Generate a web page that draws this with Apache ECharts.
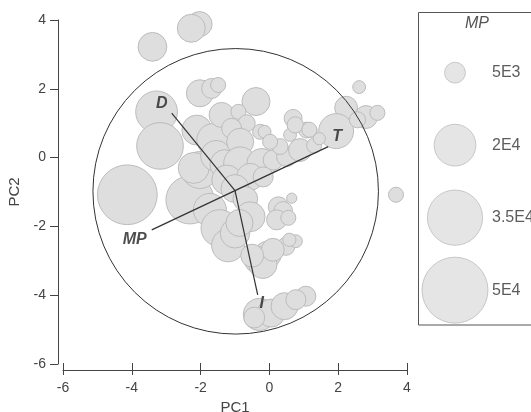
<!DOCTYPE html>
<html>
<head>
<meta charset="utf-8">
<script src="https://cdn.jsdelivr.net/npm/echarts@6/dist/echarts.min.js"></script>
<style>html,body{margin:0;padding:0;background:#fff}#c{width:531px;height:412px}</style>
</head>
<body>
<div id="c"></div>
<script>
// Bubble data: [PC1, PC2, MP]
const bubbles = [
  [-3.40, 3.22, 9500], [-2.03, 3.88, 7200], [-2.27, 3.76, 9000],
  [-2.02, 1.87, 8400], [-1.68, 2.01, 4600], [-1.49, 2.11, 2600],
  [-3.28, 1.33, 20000], [-3.18, 0.34, 25000], [-4.13, -1.08, 41000], [-2.31, -1.23, 26500],
  [-2.11, 0.80, 10300], [-1.63, 0.51, 12500], [-2.02, -0.36, 15700],
  [-2.20, -0.30, 11000], [-1.55, 0.05, 11000], [-1.30, -0.20, 10000],
  [-0.39, 1.63, 9000], [-1.39, 1.24, 7200], [-0.90, 1.33, 2600], [-0.66, 1.00, 3300],
  [-1.10, 0.85, 4600], [-0.27, 0.75, 2600], [-0.14, 0.75, 1900],
  [-0.85, 0.46, 8400], [-0.85, -0.17, 12500], [-0.22, -0.17, 10300], [0.11, -0.07, 4600],
  [0.50, 0.03, 4600], [0.31, 0.32, 2900], [0.89, 0.22, 6000], [0.69, 1.14, 3700],
  [1.08, 0.80, 2900], [1.20, 0.78, 1900], [0.60, 0.66, 1900], [0.02, 0.46, 2600],
  [1.30, 0.35, 2600], [0.75, 0.95, 3000],
  [-1.24, -0.65, 10300], [-0.56, -0.56, 8400], [-0.18, -0.56, 4600],
  [-1.00, -0.90, 9000], [-0.70, -1.20, 7000],
  [-0.56, -1.72, 10300], [0.26, -1.43, 4600], [0.40, -1.55, 4000], [0.65, -1.18, 1200],
  [0.21, -1.81, 4600], [0.55, -1.75, 2600],
  [-1.73, -1.52, 12500], [-1.45, -2.05, 15700], [-1.20, -2.55, 12500], [-1.00, -2.20, 10000],
  [-0.87, -1.90, 8400],
  [-0.05, -2.82, 8400], [-0.34, -2.97, 8400], [0.48, -2.58, 3700], [0.77, -2.43, 1900],
  [-0.19, -3.10, 9300], [0.10, -2.68, 6000], [0.58, -2.39, 2000], [-0.50, -2.85, 6000],
  [2.61, 2.05, 1900], [2.23, 1.45, 6000], [1.94, 0.77, 14000], [2.81, 1.18, 6000],
  [3.14, 1.30, 2600], [2.56, 1.10, 3000], [1.16, 0.81, 2600], [3.68, -1.08, 2600],
  [1.45, 0.55, 1700],
  [-0.29, -4.56, 12000], [0.05, -4.52, 9000], [0.44, -4.32, 8400], [1.06, -4.03, 4600],
  [0.77, -4.13, 4600], [-0.44, -4.65, 5000]
];
// Correlation circle: [centerX, centerY, radius]
const circle = [[-0.98, -0.98, 4.15]];
// Loading vectors
const vectorOrigin = [-1.0, -0.96];
const vectorNames = ['D', 'T', 'MP', 'I'];
const vectorEnds = [[-2.84, 1.29], [1.71, 0.32], [-3.42, -2.10], [-0.34, -3.99]];
// Size legend
const legendMP = [5000, 20000, 35000, 50000];
const legendLabels = ['5E3', '2E4', '3.5E4', '5E4'];
const axisTicks = [-6, -4, -2, 0, 2, 4];

const K = 0.295;
const sizeFn = v => Math.sqrt(v[2]) * K;
const labelOffsets = {D: [-10, -10], T: [9, -10], MP: [-17, 10], I: [4, 9]};
const font = 'Liberation Sans, Arial, sans-serif';
const axMin = axisTicks[0], axMax = axisTicks[axisTicks.length - 1];

const chart = echarts.init(document.getElementById('c'), null, {renderer: 'canvas'});
chart.setOption({
  animation: false,
  backgroundColor: '#fff',
  grid: [
    {left: 63, top: 20, width: 344, height: 344, containLabel: false, outerBoundsMode: 'none'},
    {left: 418, top: 36.4, right: 0, height: 290, containLabel: false, outerBoundsMode: 'none'}
  ],
  xAxis: [{
    type: 'value', gridIndex: 0, min: axMin, max: axMax, interval: 2,
    offset: 6, name: 'PC1', nameLocation: 'middle', nameGap: 24,
    nameTextStyle: {color: '#444', fontSize: 15, fontFamily: font},
    axisLine: {show: true, onZero: false, lineStyle: {color: '#444', width: 1}},
    axisTick: {show: true, inside: true, length: 7, lineStyle: {color: '#444'}},
    axisLabel: {color: '#444', fontSize: 14, fontFamily: font, margin: 11},
    splitLine: {show: false}
  }, {
    type: 'value', gridIndex: 1, min: 0, max: 113, show: false
  }, {
    type: 'value', gridIndex: 0, min: axMin, max: axMax, interval: 2, position: 'bottom',
    offset: 6,
    axisLine: {show: false, onZero: false},
    axisTick: {show: true, inside: false, length: 5, lineStyle: {color: '#444'}},
    axisLabel: {show: false}, splitLine: {show: false}
  }],
  yAxis: [{
    type: 'value', gridIndex: 0, min: axMin, max: axMax, interval: 2,
    offset: 5, name: 'PC2', nameLocation: 'middle', nameGap: 30, nameRotate: 90,
    nameTextStyle: {color: '#444', fontSize: 15, fontFamily: font},
    axisLine: {show: true, onZero: false, lineStyle: {color: '#444', width: 1}},
    axisTick: {show: true, inside: false, length: 8, lineStyle: {color: '#444'}},
    axisLabel: {color: '#444', fontSize: 14, fontFamily: font, margin: 12},
    splitLine: {show: false}
  }, {
    type: 'category', gridIndex: 1, data: legendLabels, inverse: true, show: false
  }],
  graphic: [
    {type: 'rect', shape: {x: 418.5, y: 12.5, width: 200, height: 312.5},
     style: {fill: 'none', stroke: '#555', lineWidth: 1}, z: 0},
    {type: 'text', x: 477, y: 24,
     style: {text: 'MP', fill: '#555', font: 'italic 16px ' + font, textAlign: 'center', textVerticalAlign: 'middle'}}
  ],
  series: [
    {
      type: 'scatter', xAxisIndex: 0, yAxisIndex: 0,
      data: bubbles, symbolSize: sizeFn,
      itemStyle: {color: '#dedede', borderColor: '#bcbcbc', borderWidth: 1, opacity: 1},
      z: 2
    },
    {
      type: 'custom', xAxisIndex: 0, yAxisIndex: 0, data: circle, silent: true, z: 3,
      renderItem: function (params, api) {
        const c = api.coord([api.value(0), api.value(1)]);
        const s = api.size([api.value(2), api.value(2)]);
        return {type: 'circle', shape: {cx: c[0], cy: c[1], r: (s[0] + s[1]) / 2},
                style: {fill: 'none', stroke: '#333', lineWidth: 1}};
      }
    },
    {
      type: 'lines', coordinateSystem: 'cartesian2d', xAxisIndex: 0, yAxisIndex: 0, z: 4,
      data: vectorEnds.map(e => ({coords: [vectorOrigin, e]})),
      lineStyle: {color: '#333', width: 1.2, opacity: 1}
    },
    {
      type: 'scatter', xAxisIndex: 0, yAxisIndex: 0, z: 5, symbolSize: 0,
      data: vectorNames.map((n, i) => ({value: vectorEnds[i], name: n,
        label: {offset: labelOffsets[n]}})),
      label: {show: true, position: 'inside', formatter: p => p.name,
              color: '#222', fontSize: 16, fontWeight: 'bold', fontStyle: 'italic', fontFamily: font}
    },
    {
      type: 'scatter', xAxisIndex: 1, yAxisIndex: 1, z: 2,
      data: legendMP.map((v, i) => [37, i, v]), symbolSize: sizeFn,
      itemStyle: {color: '#dedede', borderColor: '#bcbcbc', borderWidth: 1}
    },
    {
      type: 'scatter', xAxisIndex: 1, yAxisIndex: 1, z: 2, symbolSize: 0,
      data: legendLabels.map((l, i) => ({value: [74, i], name: l})),
      label: {show: true, position: 'right', distance: 0, formatter: p => p.name,
              color: '#333', fontSize: 16, fontFamily: font}
    }
  ]
});
</script>
</body>
</html>
